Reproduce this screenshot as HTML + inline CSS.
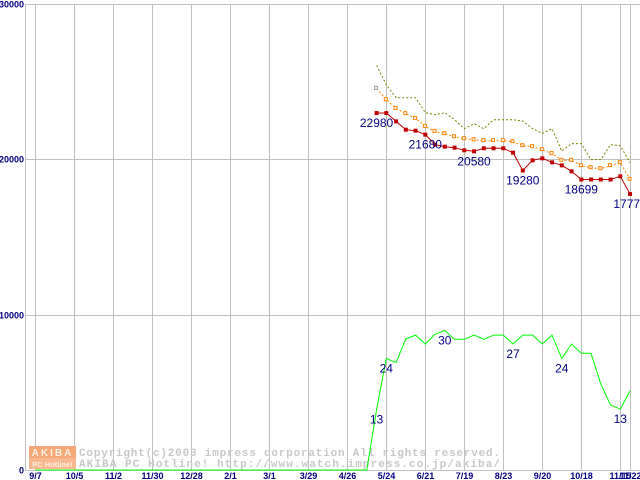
<!DOCTYPE html>
<html><head><meta charset="utf-8"><style>
html,body{margin:0;padding:0;background:#fff;}
svg{display:block;font-family:"Liberation Sans",sans-serif;}
</style></head><body>
<svg id="chart" width="640" height="480" viewBox="0 0 640 480" xmlns="http://www.w3.org/2000/svg">
<rect x="0" y="0" width="640" height="480" fill="#fff"/>
<g id="grid"></g>
<g id="watermark">
  <rect x="29" y="446" width="47" height="12" fill="#f5a878"/>
  <rect x="29" y="458" width="47" height="11" fill="#f7b890"/>
  <text x="52.5" y="456" font-size="10" font-weight="bold" fill="#fff0e4" text-anchor="middle" letter-spacing="2">AKIBA</text>
  <text x="52.5" y="467" font-size="7.5" font-weight="bold" fill="#fff0e4" text-anchor="middle">PC Hotline!</text>
  <text x="79" y="456" font-family="Liberation Mono, monospace" font-size="11" font-weight="bold" fill="#c8c8c8" textLength="421">Copyright(c)2003 impress corporation All rights reserved.</text>
  <text x="79" y="467" font-family="Liberation Mono, monospace" font-size="11" font-weight="bold" fill="#c8c8c8" textLength="421">AKIBA PC Hotline!  http://www.watch.impress.co.jp/akiba/</text>
</g>
<g id="series"></g>
<g id="labels"></g>
</svg>
<script>
const yTicks = [0, 10000, 20000, 30000];
const xTickLabels = ["9/7","10/5","11/2","11/30","12/28","2/1","3/1","3/29","4/26","5/24","6/21","7/19","8/23","9/20","10/18","11/15","11/22"];
const xTickIdx = [0,4,8,12,16,20,24,28,32,36,40,44,48,52,56,60,61];
const priceIdx = [35,36,37,38,39,40,41,42,43,44,45,46,47,48,49,50,51,52,53,54,55,56,57,58,59,60,61];
const minPrice = [22980,22980,22444,21910,21845,21590,20945,20815,20750,20580,20515,20710,20710,20710,20430,19280,19935,20065,19807,19614,19228,18699,18699,18699,18699,18907,17770];
const avgPrice = [24566,23840,23280,22940,22636,22122,21800,21650,21456,21328,21264,21200,21200,21200,21135,20880,20815,20623,20366,19936,19936,19593,19464,19400,19593,19786,18713];
const maxPrice = [26045,24800,23965,23965,23965,23003,22874,23003,22553,21975,22296,21975,22553,22553,22553,22465,21975,21672,21975,20536,21010,21010,19981,19981,20945,20880,19786];
const shopIdx = [0,34,35,36,37,38,39,40,41,42,43,44,45,46,47,48,49,50,51,52,53,54,55,56,57,58,59,60,61];
const shopCount = [0,0,13,24,23.1,28.2,29,27.1,29.2,30,28.1,28.1,29,28.1,29,29,27.1,29,29,27.1,29,24,27.1,25.1,25.1,18.5,14,13.1,17];
const priceLabelIdx = [35,40,45,50,56,61];
const priceLabelVal = ["22980","21680","20580","19280","18699","17770"];
const shopLabelIdx = [35,36,42,49,54,60];
const shopLabelVal = ["13","24","30","27","24","13"];

const NS = "http://www.w3.org/2000/svg";
const plotL = 25, plotR = 640, plotT = 4, plotB = 470;
function xs(t){ return 35.3 + t * 9.75; }
function yp(v){ return plotB - (v / 30000) * (plotB - plotT); }
function yc(v){ return plotB - v * 4.65; }
function mk(tag, attrs, parent){
  const e = document.createElementNS(NS, tag);
  for (const k in attrs) e.setAttribute(k, attrs[k]);
  parent.appendChild(e);
  return e;
}
const grid = document.getElementById('grid');
const series = document.getElementById('series');
const labels = document.getElementById('labels');

yTicks.forEach(v => {
  const y = Math.round(yp(v)) + 0.5;
  const l = mk('line', {x1: plotL, x2: plotR, y1: y, y2: y, stroke: '#c0c0c0', 'stroke-width': 1}, grid);
  
  
  const t = mk('text', {x: plotL - 1, y: y + 3, 'font-size': 9, 'font-weight': 'bold', fill: '#000080', 'text-anchor': 'end'}, grid);
  t.textContent = String(v);
  
  
});
const ax = mk('line', {x1: plotL + 0.5, x2: plotL + 0.5, y1: plotT, y2: plotB, stroke: '#c0c0c0'}, grid);


xTickIdx.forEach((t, i) => {
  const x = Math.round(xs(t)) + 0.5;
  const l = mk('line', {x1: x, x2: x, y1: plotT, y2: plotB, stroke: '#c0c0c0', 'stroke-width': 1}, grid);
  
  
  const tx = mk('text', {x: x, y: 479, 'font-size': 9, 'font-weight': 'bold', fill: '#000080', 'text-anchor': 'middle'}, grid);
  tx.textContent = xTickLabels[i];
  
  
});

function poly(idx, vals, yf, color, dash, name){
  const pts = idx.map((t, i) => xs(t).toFixed(1) + ',' + yf(vals[i]).toFixed(1)).join(' ');
  const p = mk('polyline', {points: pts, fill: 'none', stroke: color, 'stroke-width': 1}, series);
  if (dash) p.setAttribute('stroke-dasharray', dash);
  
  
}
poly(shopIdx, shopCount, yc, '#00ff00', null, 'shop-count-line');
poly(priceIdx, maxPrice, yp, '#808000', '2,2', 'max-price-line');
poly(priceIdx, avgPrice, yp, '#ff8000', '2,2', 'avg-price-line');
priceIdx.forEach((t, i) => {
  const r = mk('rect', {x: xs(t) - 2, y: yp(avgPrice[i]) - 2, width: 3, height: 3, fill: '#fff', stroke: i === 0 ? '#a0a0a0' : '#ff8000', 'stroke-width': 1}, series);
  
  
});
poly(priceIdx, minPrice, yp, '#c00000', null, 'min-price-line');
priceIdx.forEach((t, i) => {
  const r = mk('rect', {x: xs(t) - 2, y: yp(minPrice[i]) - 2, width: 4, height: 4, fill: '#c00000'}, series);
  
  
});

priceLabelIdx.forEach((t, i) => {
  const k = priceIdx.indexOf(t);
  const tx = mk('text', {x: xs(t), y: yp(minPrice[k]) + 14, 'font-size': 12, fill: '#000080', 'text-anchor': 'middle'}, labels);
  tx.textContent = priceLabelVal[i];
  
  
});
shopLabelIdx.forEach((t, i) => {
  const k = shopIdx.indexOf(t);
  const tx = mk('text', {x: xs(t), y: yc(shopCount[k]) + 14, 'font-size': 12, fill: '#000080', 'text-anchor': 'middle'}, labels);
  tx.textContent = shopLabelVal[i];
  
  
});
</script>
</body></html>
